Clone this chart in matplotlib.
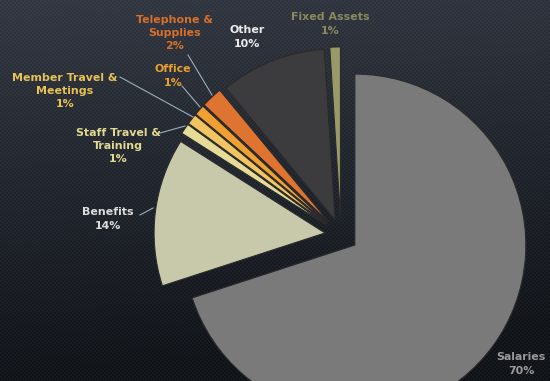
import numpy as np
import matplotlib
matplotlib.use("Agg")
import matplotlib.pyplot as plt

categories = ["Salaries", "Benefits", "Staff Travel &\nTraining", "Member Travel &\nMeetings",
              "Office", "Telephone &\nSupplies", "Other", "Fixed Assets"]
values = [70, 14, 1, 1, 1, 2, 10, 1]
pct_labels = ["70%", "14%", "1%", "1%", "1%", "2%", "10%", "1%"]
colors = ["#7a7a7a", "#c8c8aa", "#e6dc98", "#f2c462", "#f0a030", "#de7430", "#3c3c3e", "#9a9a68"]
text_colors = ["#9a9a9a", "#dcdcdc", "#e2da92", "#e8c256", "#e8a030", "#d8702c", "#ececec", "#8a8a5e"]
explode = [0.10, 0.094, 0.105, 0.105, 0.105, 0.105, 0.095, 0.10]

W, H, R = 550, 381, 171.0
cx, cy = 341, 235
fig = plt.figure(figsize=(5.5, 3.81), dpi=100)

# background gradient with a fine dot texture
bg = fig.add_axes([0, 0, 1, 1])
yy, xx = np.mgrid[0:H, 0:W]
t = np.clip(0.2 + 0.8 * (yy / H) + 0.1 * (xx / W), 0, 1)
top = np.array([64, 70, 82]) / 255
bot = np.array([22, 25, 30]) / 255
img = top[None, None, :] * (1 - t[..., None]) + bot[None, None, :] * t[..., None]
pat = (((xx // 2) + (yy // 2)) % 2) * 0.03
img = np.clip(img - pat[..., None], 0, 1)
bg.imshow(img, aspect="auto", extent=[0, W, H, 0])
bg.set_axis_off()

ax = fig.add_axes([0, 0, 1, 1])
ax.patch.set_alpha(0)
wedges, _ = ax.pie(values, colors=colors, explode=explode, startangle=90, counterclock=False,
                   radius=1.0, wedgeprops=dict(edgecolor="#2a2a2c", linewidth=0.8))
ax.set_xlim(-cx / R, (W - cx) / R)
ax.set_ylim(-(H - cy) / R, cy / R)
ax.set_aspect("auto")
ax.set_axis_off()

def px(x, y):
    return ((x - cx) / R, (cy - y) / R)

fs = 7.9
label_pos = [(521, 364), (108, 219), (118, 146), (65, 91), (173, 76), (175, 33), (247, 37), (330, 24)]
for i, (cat, pc) in enumerate(zip(categories, pct_labels)):
    x, y = px(*label_pos[i])
    ax.text(x, y, cat + "\n" + pc, ha="center", va="center", fontsize=fs, fontweight="bold",
            color=text_colors[i], linespacing=1.4, family="DejaVu Sans")

lines = [((140, 215), (153, 208)), ((160, 133), (185, 126)), ((120, 77), (193, 117)),
         ((182, 86), (200, 107)), ((188, 55), (212, 95))]
for (a, b) in lines:
    p1, p2 = px(*a), px(*b)
    ax.plot([p1[0], p2[0]], [p1[1], p2[1]], color="#9aaebe", lw=0.8)

fig.savefig("out.png", dpi=100)
